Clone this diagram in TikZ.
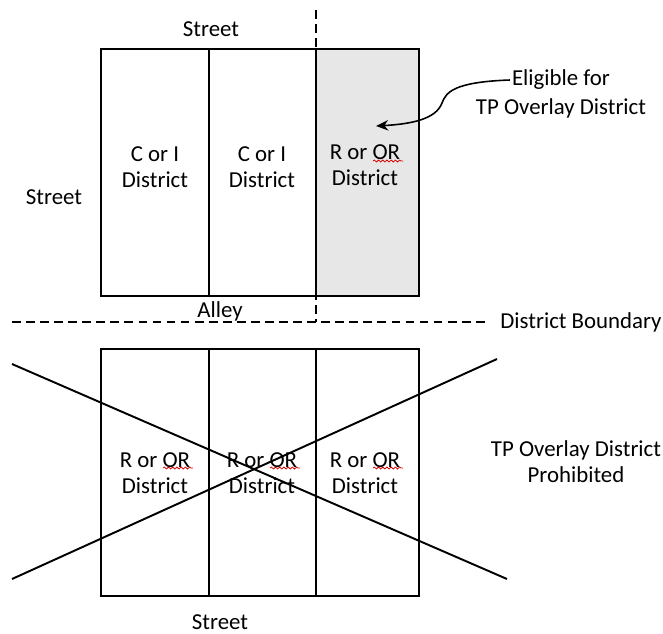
\documentclass[tikz,border=0pt]{standalone}
\usepackage{fontspec}
\setmainfont{Carlito}
\usepackage{tikz}
\usepackage{xcolor}
\usetikzlibrary{arrows.meta, decorations.pathmorphing}

\definecolor{eligray}{HTML}{E7E7E7}

\tikzset{
  cell/.style={draw, line width=1.1pt, minimum height=4.94cm, inner sep=0pt},
  lbl/.style={align=center, inner sep=1pt, font=\fontsize{13}{14.8}\selectfont},
  bdry/.style={line width=1.5pt, dash pattern=on 5pt off 3pt},
  cross/.style={line width=1.1pt},
  squig/.style={red!85!black, line width=0.45pt, decorate,
    decoration={snake, segment length=2.4pt, amplitude=0.55pt}}
}

\begin{document}
\begin{tikzpicture}[x=0.02cm, y=-0.02cm]
      \useasboundingbox (0,0) rectangle (663,633);
      % upper block
      \node [cell, fill=eligray, minimum width=2.06cm] (T3) at (367.5,172.5) {};
      \node [cell, minimum width=2.16cm] (T1) at (155,172.5) {};
      \node [cell, minimum width=2.14cm] (T2) at (262.5,172.5) {};
      \node [lbl] (t1) at (155,167) {C or I\\District};
      \node [lbl] (t2) at (262,167) {C or I\\District};
      \node [lbl] (t3) at (365,165) {R or OR\\District};
      \draw [squig] ([shift={(8,-4)}]t3.center) -- ++(30,0);
      \node [lbl] (sttop) at (211,29) {Street};
      \node [lbl] (stleft) at (54,197) {Street};
      \node [lbl] (alley) at (220,311) {Alley};
      % boundary
      \draw [bdry] (316,10) -- (316,322);
      \draw [bdry] (12,322) -- (485,322);
      \node [lbl] (dbnd) at (581,322) {District Boundary};
      % eligible
      \node [lbl] (elig1) at (561,80) {Eligible for};
      \node [lbl] (elig2) at (561,108) {TP Overlay District};
      \coordinate (tip) at (376,126);
      \draw [line width=0.9pt, -{Stealth[length=7pt, width=6pt]}] (elig1.west) .. controls (452,82) and (446,93) .. (442,103) .. controls (436,119) and (412,124) .. (tip);
      % lower block
      \node [cell, minimum width=2.16cm] (B1) at (155,472.5) {};
      \node [cell, minimum width=2.14cm] (B2) at (262.5,472.5) {};
      \node [cell, minimum width=2.06cm] (B3) at (367.5,472.5) {};
      \node [lbl] (b1) at (155,473) {R or OR\\District};
      \node [lbl] (b2) at (262,473) {R or OR\\District};
      \node [lbl] (b3) at (365,473) {R or OR\\District};
      \foreach \b in {b1,b2,b3}
        \draw [squig] ([shift={(8,-5)}]\b.center) -- ++(30,0);
      \draw [cross] (12,364) -- (507,579);
      \draw [cross] (12,579) -- (497,359);
      \node [lbl] (prohib) at (576,462) {TP Overlay District\\Prohibited};
      \node [lbl] (stbot) at (220,622) {Street};
    \end{tikzpicture}
\end{document}
